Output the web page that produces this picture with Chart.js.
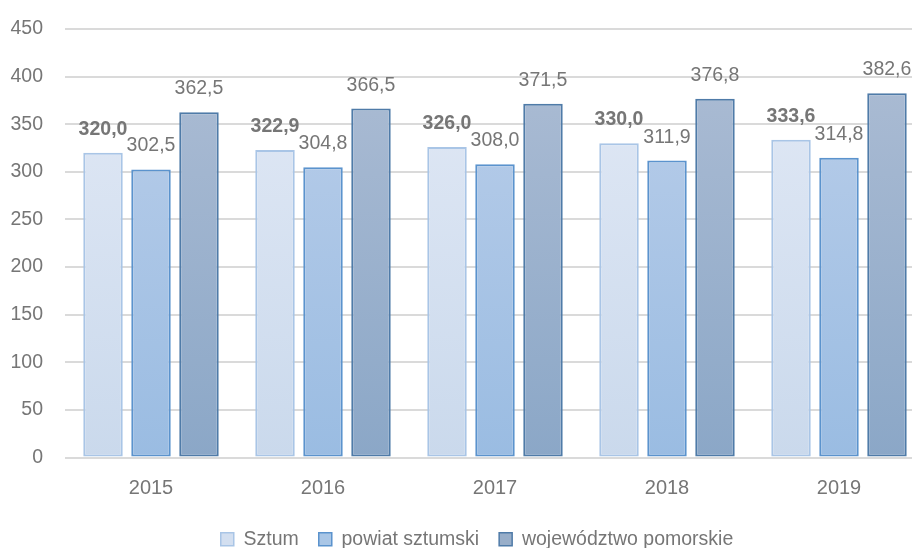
<!DOCTYPE html>
<html lang="pl">
<head>
<meta charset="utf-8">
<title>Sztum - wykres</title>
<script src="https://cdn.jsdelivr.net/npm/chart.js@4.4.1/dist/chart.umd.min.js"></script>
<style>
  html, body { margin: 0; padding: 0; background: #ffffff; overflow: hidden; }
  #wrap { width: 912px; height: 548px; position: relative; overflow: hidden; }
  #chart { position: absolute; left: 0; top: 0; }
</style>
</head>
<body>
<div id="wrap"><canvas id="chart" width="925" height="559"></canvas></div>
<script>
// Dane wykresu
const lata = ['2015', '2016', '2017', '2018', '2019'];
const sztum = [320.0, 322.9, 326.0, 330.0, 333.6];
const powiatSztumski = [302.5, 304.8, 308.0, 311.9, 314.8];
const wojPomorskie = [362.5, 366.5, 371.5, 376.8, 382.6];
const nazwySerii = ['Sztum', 'powiat sztumski', 'województwo pomorskie'];
const yTicks = [0, 50, 100, 150, 200, 250, 300, 350, 400, 450];

const FONT = '"Liberation Sans", Arial, sans-serif';
const TEXT_COLOR = '#767676';

// kolory słupków: [góra, dół, obramowanie, legenda]
const kolory = [
    ['#e0e8f5', '#cad9ec', '#a9c5e6', '#d3dff0'],
    ['#b8cde9', '#9abce2', '#5b93cd', '#a9c6e6'],
    ['#aabbd3', '#8ba7c7', '#4f7ba8', '#98aec9']
];

// gradient pionowy dla słupków
function gradient(idx) {
    return function(context) {
        const chart = context.chart;
        if (!chart.chartArea) return kolory[idx][1];
        const y = chart.scales.y;
        const g = chart.ctx.createLinearGradient(0, y.getPixelForValue(400), 0, y.getPixelForValue(0));
        g.addColorStop(0, kolory[idx][0]);
        g.addColorStop(1, kolory[idx][1]);
        return g;
    };
}

// etykiety wartości nad słupkami
const etykietyPlugin = {
    id: 'etykiety',
    afterDatasetsDraw(chart) {
        const ctx = chart.ctx;
        ctx.save();
        ctx.fillStyle = TEXT_COLOR;
        ctx.textAlign = 'center';
        ctx.textBaseline = 'alphabetic';
        chart.data.datasets.forEach((ds, i) => {
            const meta = chart.getDatasetMeta(i);
            ctx.font = (i === 0 ? 'bold ' : '') + '19.5px ' + FONT;
            meta.data.forEach((bar, j) => {
                const txt = ds.data[j].toFixed(1).replace('.', ',');
                ctx.fillText(txt, bar.x, bar.y - 18);
            });
        });
        ctx.restore();
    }
};

// legenda w oryginale jest przesunięta nieco w prawo względem płótna
const przesunLegende = {
    id: 'przesunLegende',
    afterLayout(chart) {
        const l = chart.legend;
        if (l) { l.left += 14.5; l.right += 14.5; }
    }
};

const seriesData = [sztum, powiatSztumski, wojPomorskie];
const datasets = seriesData.map((d, i) => ({
    label: nazwySerii[i],
    data: d,
    backgroundColor: gradient(i),
    borderColor: kolory[i][2],
    borderWidth: 2,
    borderSkipped: false,
    barPercentage: 0.823,
    categoryPercentage: 0.837
}));

new Chart(document.getElementById('chart').getContext('2d'), {
    type: 'bar',
    data: { labels: lata, datasets },
    plugins: [etykietyPlugin, przesunLegende],
    options: {
        responsive: false,
        animation: false,
        layout: { padding: { left: 0, right: 0, top: 29, bottom: 0 } },
        plugins: {
            tooltip: { enabled: false },
            legend: {
                position: 'bottom',
                labels: {
                    color: TEXT_COLOR,
                    font: { family: FONT, size: 19.5 },
                    boxWidth: 13,
                    boxHeight: 13,
                    padding: 20,
                    generateLabels: () => nazwySerii.map((n, i) => ({
                        text: n,
                        fillStyle: kolory[i][3],
                        strokeStyle: kolory[i][2],
                        lineWidth: 1.5,
                        fontColor: TEXT_COLOR,
                        datasetIndex: i
                    }))
                }
            }
        },
        scales: {
            x: {
                grid: { display: false, drawTicks: false },
                border: { display: false },
                ticks: { color: TEXT_COLOR, font: { family: FONT, size: 20 }, padding: 19 },
                afterFit: (s) => { s.height = 52; }
            },
            y: {
                min: 0,
                max: 450,
                afterBuildTicks: (s) => { s.ticks = yTicks.map(v => ({ value: v })); },
                afterFit: (s) => { s.width = 65; },
                // niewidoczne znaczniki zamiast dużego paddingu (który przesuwa górę wykresu)
                grid: { color: '#dadada', lineWidth: 2, drawTicks: true, tickLength: 22, tickColor: 'rgba(0,0,0,0)' },
                border: { display: false },
                ticks: { color: TEXT_COLOR, font: { family: FONT, size: 19.5 }, padding: 0 }
            }
        }
    }
});
</script>
</body>
</html>
